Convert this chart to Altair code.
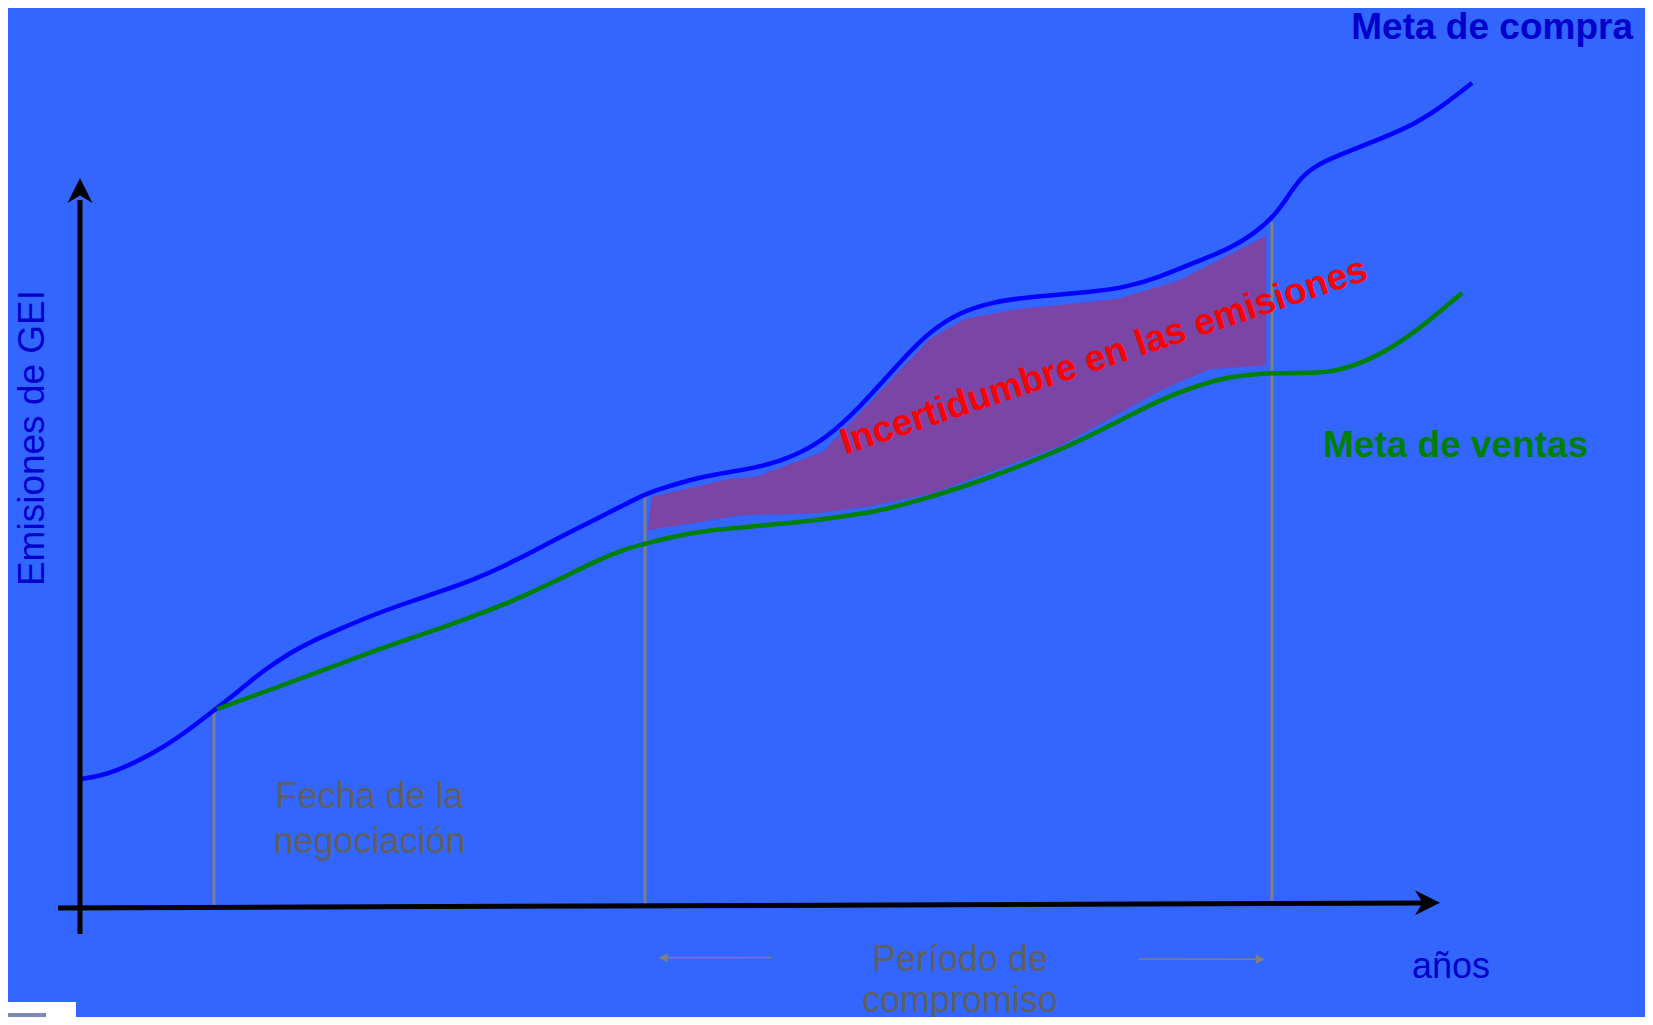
import altair as alt
import pandas as pd

W, H = 1637, 1009
BG = "#3366FF"
FONT = "Liberation Sans"

# ---- data (diagram units) ----
compra_x = [81, 100, 118, 140, 164, 190, 217, 240, 264, 290, 310, 340, 368, 400, 445, 475, 502, 530, 560, 590,
            618, 645, 663, 700, 730, 760, 793, 827, 860, 893, 927, 960, 993, 1027, 1093, 1127, 1160, 1193, 1227, 1257,
            1277, 1290, 1303, 1320, 1347, 1380, 1413, 1440, 1472]
compra_y = [779, 776, 770, 760, 747, 729, 708, 690, 670, 653, 642, 629, 617, 605, 590, 579, 567, 553, 537, 522,
            508, 494, 488, 477, 472, 467, 457, 438, 407, 370, 333, 312, 302, 297, 292, 287, 277, 263, 250, 232,
            213, 193, 175, 163, 152, 139, 125, 108, 83]

ventas_x = [217, 270, 329, 390, 445, 490, 522, 560, 598, 625, 648, 680, 720, 770, 820, 860, 883, 920, 960, 1010,
            1060, 1095, 1127, 1160, 1193, 1227, 1263, 1300, 1330, 1363, 1397, 1430, 1462]
ventas_y = [709, 690, 668, 645, 627, 610, 597, 579, 560, 549, 543, 535, 529, 525, 520, 514, 510, 500, 488, 470,
            450, 433, 417, 400, 387, 377, 373, 373, 373, 363, 345, 320, 293]

band_x = [652, 730, 756, 823, 930, 965, 1013, 1118, 1178, 1266, 1266, 1210, 1163, 1060, 933, 875, 819, 743, 648]
band_y = [497, 479, 477, 452, 339, 319, 310, 299, 281, 236, 365, 369, 389, 446, 493, 505, 513, 515, 530]

guide_x = [214, 645, 1272]
guide_top = [712, 495, 222]
guide_bottom = [908, 905, 903]

axes_x = [80, 58]
axes_y = [934, 908]
axes_x2 = [80, 1430]
axes_y2 = [200, 903]

heads_x = [80, 1427.5]
heads_y = [190.5, 902.8]
heads_angle = [0, 90]

small_x = [771, 1139]
small_y = [957.5, 959]
small_x2 = [664, 1260]
small_y2 = [957.7, 959.3]
small_head_x = [663.2, 1260.5]
small_head_y = [957.7, 959.3]
small_head_angle = [270, 90]

# ---- scales ----
xs = alt.Scale(domain=[8, 8 + W], nice=False, zero=False)
ys = alt.Scale(domain=[8, 8 + H], nice=False, zero=False, reverse=True)


def X(f="x"):
    return alt.X(f"{f}:Q", scale=xs, axis=None)


def Y(f="y"):
    return alt.Y(f"{f}:Q", scale=ys, axis=None)


band_df = pd.DataFrame({"x": band_x, "y": band_y, "i": list(range(len(band_x)))})
band = alt.Chart(band_df).mark_line(
    interpolate="linear-closed", fill="#7B45A6", stroke="#7B45A6", strokeWidth=0.5
).encode(x=X(), y=Y(), order=alt.Order("i:Q"))

guides_df = pd.DataFrame({"x": guide_x, "y": guide_top, "y2": guide_bottom})
guides = alt.Chart(guides_df).mark_rule(color="#808080", strokeWidth=3).encode(
    x=X(), y=Y(), y2=alt.Y2("y2:Q"))

compra_df = pd.DataFrame({"x": compra_x, "y": compra_y})
compra = alt.Chart(compra_df).mark_line(
    color="#0000FF", strokeWidth=4.5, interpolate="basis").encode(x=X(), y=Y())

ventas_df = pd.DataFrame({"x": ventas_x, "y": ventas_y})
ventas = alt.Chart(ventas_df).mark_line(
    color="#008000", strokeWidth=4.5, interpolate="basis").encode(x=X(), y=Y())

axes_df = pd.DataFrame({"x": axes_x, "y": axes_y, "x2": axes_x2, "y2": axes_y2})
axes = alt.Chart(axes_df).mark_rule(color="black", strokeWidth=5).encode(
    x=X(), y=Y(), x2=alt.X2("x2:Q"), y2=alt.Y2("y2:Q"))

ARROW = "M0,-1L1,1L0,0.4L-1,1Z"
heads_df = pd.DataFrame({"x": heads_x, "y": heads_y, "a": heads_angle})
heads = alt.Chart(heads_df).mark_point(
    shape=ARROW, filled=True, color="black", opacity=1, size=625, strokeWidth=0
).encode(x=X(), y=Y(), angle=alt.Angle("a:Q", scale=None))

small_df = pd.DataFrame({"x": small_x, "y": small_y, "x2": small_x2, "y2": small_y2})
small = alt.Chart(small_df).mark_rule(color="#7F7F7F", strokeWidth=1.5).encode(
    x=X(), y=Y(), x2=alt.X2("x2:Q"), y2=alt.Y2("y2:Q"))

TRI = "M0,-1L1,1L-1,1Z"
small_heads_df = pd.DataFrame({"x": small_head_x, "y": small_head_y, "a": small_head_angle})
small_heads = alt.Chart(small_heads_df).mark_point(
    shape=TRI, filled=True, color="#7F7F7F", opacity=1, size=81, strokeWidth=0
).encode(x=X(), y=Y(), angle=alt.Angle("a:Q", scale=None))

logo_df = pd.DataFrame({"x": [8, 8], "x2": [76, 46], "y": [1002, 1013], "y2": [1017, 1017],
                        "c": ["#FFFFFF", "#7D88B8"]})
logo = alt.Chart(logo_df).mark_rect().encode(
    x=X(), x2=alt.X2("x2:Q"), y=Y(), y2=alt.Y2("y2:Q"), color=alt.Color("c:N", scale=None))


def label(text, x, y, size, color, weight="normal", align="center", angle=0):
    df = pd.DataFrame({"x": [x], "y": [y], "t": [text]})
    kw = dict(font=FONT, fontSize=size, color=color, fontWeight=weight, align=align,
              baseline="alphabetic")
    if angle:
        kw["angle"] = angle
    return alt.Chart(df).mark_text(**kw).encode(x=X(), y=Y(), text="t:N")


texts = [
    label("Meta de compra", 1633, 39, 37, "#0000CC", "bold", "right"),
    label("Meta de ventas", 1323, 457, 37, "#008000", "bold", "left"),
    label("Emisiones de GEI", 44, 438, 37, "#0000CC", "normal", "center", 270),
    label("Incertidumbre en las emisiones", 1107.5, 367, 37, "#FF0000", "bold", "center", 341.5),
    label("años", 1412, 978, 36, "#0000CC", "normal", "left"),
    label("Fecha de la", 369.5, 808, 36, "#5F5F5F"),
    label("negociación", 369.5, 853, 36, "#5F5F5F"),
    label("Período de", 960, 971, 36, "#5F5F5F"),
    label("compromiso", 960, 1012, 36, "#5F5F5F"),
]

chart = alt.layer(
    band, guides, compra, ventas, axes, heads, small, small_heads, logo, *texts
).properties(
    width=W, height=H,
    autosize=alt.AutoSizeParams(type="none"),
    padding=0,
    background=BG,
).configure_view(stroke=None, fill=BG)

chart.save("out.html", embed_options={"renderer": "svg", "actions": False})
